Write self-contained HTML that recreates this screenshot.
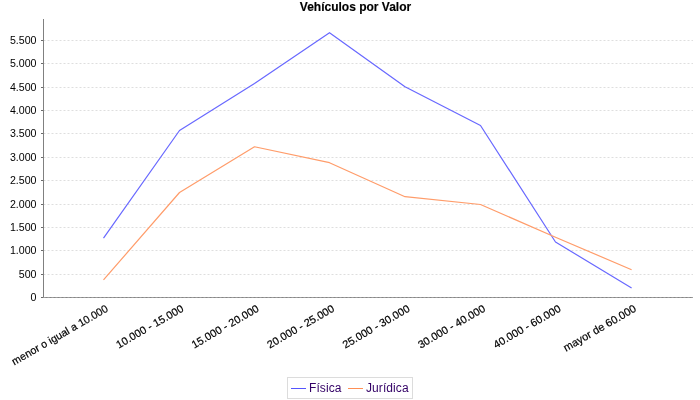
<!DOCTYPE html>
<html lang="es">
<head>
<meta charset="utf-8">
<title>Vehículos por Valor</title>
<style>
html,body{margin:0;padding:0;background:#fff;}
body{width:700px;height:400px;overflow:hidden;position:relative;}
svg{position:absolute;left:0;top:0;display:block;}
text{font-family:"Liberation Sans",sans-serif;fill:#000;}
.title{font-weight:bold;font-size:12px;text-anchor:middle;stroke:#000;stroke-width:0.15px;}
.yl{font-size:11px;text-anchor:end;}
.cat{font-size:10.68px;text-anchor:end;stroke:#000;stroke-width:0.2px;}
.leg{font-size:12px;fill:#330066;letter-spacing:0.08px;}
</style>
</head>
<body>
<svg width="700" height="400" viewBox="0 0 700 400">
<rect x="0" y="0" width="700" height="400" fill="#ffffff"/>
<text class="title" x="355.5" y="11.2">Vehículos por Valor</text>
<g stroke="#dedede" stroke-width="1" stroke-dasharray="2 2">
<line x1="43.5" y1="274.5" x2="693" y2="274.5"/>
<line x1="43.5" y1="250.5" x2="693" y2="250.5"/>
<line x1="43.5" y1="227.5" x2="693" y2="227.5"/>
<line x1="43.5" y1="204.5" x2="693" y2="204.5"/>
<line x1="43.5" y1="180.5" x2="693" y2="180.5"/>
<line x1="43.5" y1="157.5" x2="693" y2="157.5"/>
<line x1="43.5" y1="133.5" x2="693" y2="133.5"/>
<line x1="43.5" y1="110.5" x2="693" y2="110.5"/>
<line x1="43.5" y1="87.5" x2="693" y2="87.5"/>
<line x1="43.5" y1="63.5" x2="693" y2="63.5"/>
<line x1="43.5" y1="40.5" x2="693" y2="40.5"/>
</g>
<g stroke="#808080" stroke-width="1" shape-rendering="crispEdges">
<line x1="43.5" y1="19" x2="43.5" y2="298"/>
<line x1="43" y1="297.5" x2="693" y2="297.5" stroke="#858585"/>
</g>
<line x1="43.5" y1="297.5" x2="693" y2="297.5" stroke="#a0a0a0" stroke-width="1" stroke-dasharray="2 2"/>
<g stroke="#6a6a6a" stroke-width="1" shape-rendering="crispEdges">
<line x1="41" y1="297.5" x2="43" y2="297.5"/>
<line x1="41" y1="274.5" x2="43" y2="274.5"/>
<line x1="41" y1="250.5" x2="43" y2="250.5"/>
<line x1="41" y1="227.5" x2="43" y2="227.5"/>
<line x1="41" y1="204.5" x2="43" y2="204.5"/>
<line x1="41" y1="180.5" x2="43" y2="180.5"/>
<line x1="41" y1="157.5" x2="43" y2="157.5"/>
<line x1="41" y1="133.5" x2="43" y2="133.5"/>
<line x1="41" y1="110.5" x2="43" y2="110.5"/>
<line x1="41" y1="87.5" x2="43" y2="87.5"/>
<line x1="41" y1="63.5" x2="43" y2="63.5"/>
<line x1="41" y1="40.5" x2="43" y2="40.5"/>
</g>
<g>
<text class="yl" transform="translate(36.5,300.5) scale(0.967,1)" x="0" y="0">0</text>
<text class="yl" transform="translate(36.5,277.5) scale(0.967,1)" x="0" y="0">500</text>
<text class="yl" transform="translate(36.5,253.5) scale(0.967,1)" x="0" y="0">1.000</text>
<text class="yl" transform="translate(36.5,230.5) scale(0.967,1)" x="0" y="0">1.500</text>
<text class="yl" transform="translate(36.5,207.5) scale(0.967,1)" x="0" y="0">2.000</text>
<text class="yl" transform="translate(36.5,183.5) scale(0.967,1)" x="0" y="0">2.500</text>
<text class="yl" transform="translate(36.5,160.5) scale(0.967,1)" x="0" y="0">3.000</text>
<text class="yl" transform="translate(36.5,136.5) scale(0.967,1)" x="0" y="0">3.500</text>
<text class="yl" transform="translate(36.5,113.5) scale(0.967,1)" x="0" y="0">4.000</text>
<text class="yl" transform="translate(36.5,90.5) scale(0.967,1)" x="0" y="0">4.500</text>
<text class="yl" transform="translate(36.5,66.5) scale(0.967,1)" x="0" y="0">5.000</text>
<text class="yl" transform="translate(36.5,43.5) scale(0.967,1)" x="0" y="0">5.500</text>
</g>
<polyline points="103.50,238.10 179.50,130.50 254.50,83.50 329.50,32.70 405.00,86.70 480.50,125.50 555.50,242.00 631.60,288.00" fill="none" stroke="#6868ff" stroke-width="1.2" stroke-linejoin="round" stroke-linecap="butt"/>
<polyline points="103.50,279.90 179.50,192.50 254.50,146.75 329.50,162.70 405.00,196.70 480.50,204.50 555.50,237.20 631.60,269.75" fill="none" stroke="#ff9c6a" stroke-width="1.2" stroke-linejoin="round" stroke-linecap="butt"/>
<g>
<text class="cat" style="font-size:10.68px" transform="translate(108.90,310.80) rotate(-30)" x="0" y="0">menor o igual a 10.000</text>
<text class="cat" style="font-size:10.81px" transform="translate(184.35,310.80) rotate(-30)" x="0" y="0">10.000 - 15.000</text>
<text class="cat" style="font-size:10.81px" transform="translate(259.80,310.80) rotate(-30)" x="0" y="0">15.000 - 20.000</text>
<text class="cat" style="font-size:10.81px" transform="translate(335.25,310.80) rotate(-30)" x="0" y="0">20.000 - 25.000</text>
<text class="cat" style="font-size:10.81px" transform="translate(410.70,310.80) rotate(-30)" x="0" y="0">25.000 - 30.000</text>
<text class="cat" style="font-size:10.81px" transform="translate(486.15,310.80) rotate(-30)" x="0" y="0">30.000 - 40.000</text>
<text class="cat" style="font-size:10.81px" transform="translate(561.60,310.80) rotate(-30)" x="0" y="0">40.000 - 60.000</text>
<text class="cat" style="font-size:10.93px" transform="translate(637.05,310.80) rotate(-30)" x="0" y="0">mayor de 60.000</text>
</g>
<rect x="287.5" y="377.5" width="125" height="21" fill="#ffffff" stroke="#dcdcdc" stroke-width="1" shape-rendering="crispEdges"/>
<line x1="291" y1="388.5" x2="306" y2="388.5" stroke="#5555ff" stroke-width="1" shape-rendering="crispEdges"/>
<text class="leg" x="309" y="392">Física</text>
<line x1="348" y1="388.5" x2="363" y2="388.5" stroke="#ff8f55" stroke-width="1" shape-rendering="crispEdges"/>
<text class="leg" x="366" y="392">Jurídica</text>
</svg>
</body>
</html>
